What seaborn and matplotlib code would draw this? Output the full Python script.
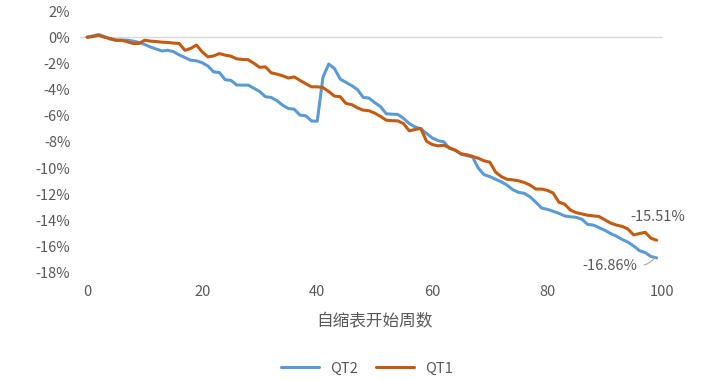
import numpy as np
import pandas as pd
import seaborn as sns
import matplotlib
matplotlib.use("Agg")
import matplotlib.pyplot as plt
from matplotlib.ticker import FuncFormatter

# 数据: 自缩表开始周数 0..99, 累计变化(%)
weeks = list(range(100))

qt2 = [0.00, 0.10, 0.20, 0.05, -0.15, -0.23, -0.23, -0.23, -0.30, -0.40,
       -0.55, -0.75, -0.90, -1.05, -1.00, -1.10, -1.35, -1.55, -1.76, -1.80,
       -1.95, -2.20, -2.65, -2.70, -3.25, -3.30, -3.65, -3.66, -3.66, -3.90,
       -4.15, -4.55, -4.60, -4.85, -5.20, -5.45, -5.50, -5.95, -6.00, -6.40,
       -6.42, -3.05, -2.05, -2.40, -3.20, -3.45, -3.70, -4.00, -4.60, -4.65,
       -5.00, -5.30, -5.85, -5.88, -5.90, -6.20, -6.60, -6.85, -7.00, -7.35,
       -7.70, -7.90, -7.99, -8.50, -8.63, -8.93, -9.05, -9.15, -10.00, -10.50,
       -10.65, -10.85, -11.05, -11.30, -11.65, -11.85, -11.93, -12.20, -12.60, -13.05,
       -13.15, -13.30, -13.45, -13.65, -13.72, -13.76, -13.90, -14.30, -14.35, -14.55,
       -14.75, -15.00, -15.20, -15.45, -15.65, -15.95, -16.30, -16.45, -16.75, -16.86]

qt1 = [0.00, 0.05, 0.15, 0.00, -0.10, -0.23, -0.23, -0.35, -0.48, -0.48,
       -0.23, -0.30, -0.33, -0.38, -0.40, -0.45, -0.48, -1.00, -0.86, -0.60,
       -1.12, -1.50, -1.43, -1.25, -1.37, -1.45, -1.65, -1.70, -1.72, -2.00,
       -2.30, -2.27, -2.72, -2.82, -2.95, -3.12, -3.03, -3.30, -3.55, -3.79,
       -3.79, -3.85, -4.15, -4.50, -4.55, -5.06, -5.15, -5.40, -5.57, -5.62,
       -5.80, -6.05, -6.34, -6.38, -6.39, -6.60, -7.15, -7.05, -6.97, -7.95,
       -8.20, -8.30, -8.25, -8.45, -8.63, -8.90, -8.98, -9.10, -9.25, -9.44,
       -9.55, -10.30, -10.65, -10.85, -10.90, -10.97, -11.10, -11.30, -11.60, -11.60,
       -11.70, -11.90, -12.60, -12.75, -13.20, -13.40, -13.50, -13.60, -13.65, -13.70,
       -13.95, -14.20, -14.35, -14.45, -14.65, -15.10, -15.00, -14.90, -15.35, -15.51]

series_names = ["QT2", "QT1"]
colors = {"QT2": "#5B9BD5", "QT1": "#C55A11"}

df = pd.concat([
    pd.DataFrame({"week": weeks, "value": qt2, "series": "QT2"}),
    pd.DataFrame({"week": weeks, "value": qt1, "series": "QT1"}),
])

sns.set_style("white")
plt.rcParams["font.family"] = ["Noto Sans CJK SC", "DejaVu Sans"]
plt.rcParams["axes.unicode_minus"] = False

fig = plt.figure(figsize=(7.2, 3.8), dpi=100)
ax = fig.add_axes([0.121, 0.282, 0.799, 0.689])

sns.lineplot(data=df, x="week", y="value", hue="series", hue_order=series_names,
             palette=colors, linewidth=2.2, ax=ax, legend=False, clip_on=False)

# 零线
ax.axhline(0, xmin=-0.012, color="#D9D9D9", linewidth=1, zorder=0, clip_on=False)

ax.set_xlim(0, 100)
ax.set_ylim(-18, 2)
ax.set_xticks([0, 20, 40, 60, 80, 100])
ax.set_yticks(np.arange(-18, 3, 2))
ax.yaxis.set_major_formatter(FuncFormatter(lambda v, p: f"{v:.0f}%"))
for s in ax.spines.values():
    s.set_visible(False)
ax.tick_params(length=0, labelsize=10.5, colors="#595959")
ax.tick_params(axis="x", pad=9)
ax.tick_params(axis="y", pad=12)
ax.set_xlabel("自缩表开始周数", fontsize=12, color="#595959", labelpad=10)
ax.set_ylabel("")

# 末值标注
ax.annotate(f"{qt1[-1]:.2f}%", xy=(weeks[-1], qt1[-1]), xytext=(99.2, -13.7),
            ha="center", va="center", fontsize=10.5, color="#595959")
ax.annotate(f"{qt2[-1]:.2f}%", xy=(weeks[-1] - 0.3, qt2[-1]), xytext=(90.8, -17.45),
            ha="center", va="center", fontsize=10.5, color="#595959",
            arrowprops=dict(arrowstyle="-", color="#A6A6A6", lw=0.8,
                            connectionstyle="arc3,rad=0.25", relpos=(1, 0.5),
                            shrinkA=3, shrinkB=0))

handles = [plt.Line2D([], [], color=colors[n], lw=2.2) for n in series_names]
fig.legend(handles, series_names, loc="center", bbox_to_anchor=(0.51, 0.03),
           ncol=2, frameon=False, fontsize=10.5, handlelength=2.6,
           columnspacing=1.2, labelcolor="#595959")

fig.savefig("out.png", dpi=100)
